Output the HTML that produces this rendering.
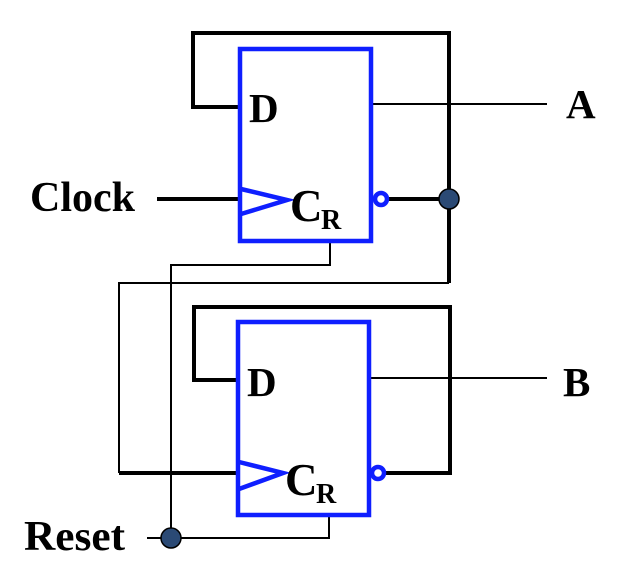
<!DOCTYPE html>
<html><head><style>
html,body{margin:0;padding:0;background:#fff;}
svg{display:block;}
text{font-family:"Liberation Serif",serif;font-weight:bold;fill:#000;}
</style></head><body>
<svg width="618" height="570" viewBox="0 0 618 570" xmlns="http://www.w3.org/2000/svg">
<g fill="none" stroke="#000">
<polyline points="240,107 193,107 193,33 449,33 449,283" stroke-width="4"/>
<line x1="371" y1="104" x2="547" y2="104" stroke-width="2"/>
<line x1="157" y1="199" x2="240" y2="199" stroke-width="4"/>
<line x1="388" y1="199" x2="449" y2="199" stroke-width="4"/>
<polyline points="330,241 330,265 171,265 171,538" stroke-width="2"/>
<polyline points="449,283 119,283 119,473" stroke-width="2"/>
<polyline points="238,380 194,380 194,307 450,307 450,473 384,473" stroke-width="4"/>
<line x1="369" y1="378" x2="547" y2="378" stroke-width="2"/>
<line x1="119" y1="473" x2="238" y2="473" stroke-width="4"/>
<polyline points="147,538 329,538 329,515" stroke-width="2"/>
</g>
<g fill="none" stroke="#0f1fff" stroke-width="4.5">
<rect x="240" y="49" width="131" height="192"/>
<polyline points="241,189 287,200 241,214"/>
<circle cx="381" cy="199" r="6" fill="#fff"/>
<rect x="238" y="322" width="131" height="193"/>
<polyline points="239,462 283,473 239,489"/>
<circle cx="378" cy="473" r="6" fill="#fff"/>
</g>
<circle cx="449" cy="199" r="10" fill="#2b4a75" stroke="#000" stroke-width="1.5"/>
<circle cx="171" cy="538" r="10" fill="#2b4a75" stroke="#000" stroke-width="1.5"/>
<text x="249" y="122" font-size="41">D</text>
<text x="290" y="221" font-size="45">C</text>
<text x="321" y="229" font-size="28">R</text>
<text x="247" y="396" font-size="41">D</text>
<text x="285" y="495" font-size="45">C</text>
<text x="316" y="503" font-size="28">R</text>
<text x="566" y="118" font-size="41">A</text>
<text x="563" y="396" font-size="41">B</text>
<text x="30" y="211" font-size="42" textLength="105" lengthAdjust="spacingAndGlyphs">Clock</text>
<text x="24" y="550" font-size="42" textLength="101" lengthAdjust="spacingAndGlyphs">Reset</text>
</svg>
</body></html>
